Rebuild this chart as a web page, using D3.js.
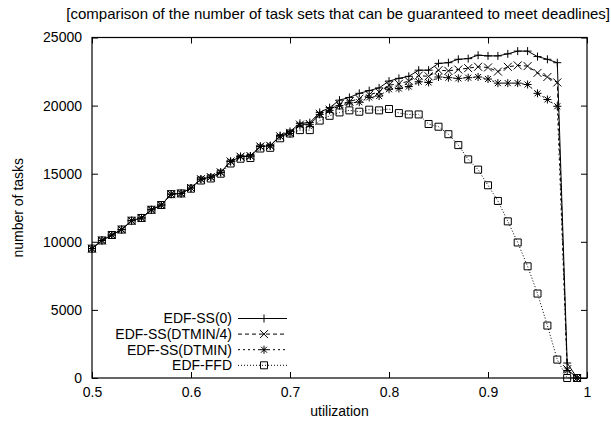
<!DOCTYPE html>
<html>
<head>
<meta charset="utf-8">
<script src="https://cdn.jsdelivr.net/npm/d3@7"></script>
<style>
  body { margin: 0; background: #fff; }
  svg { font-family: "Liberation Sans", Arial, sans-serif; }
  text { fill: #000; }
</style>
</head>
<body>
<div id="chart"></div>
<script>
// utilization steps
const utilization = d3.range(50).map(i => +(0.5 + i * 0.01).toFixed(2));

const edfSS0 = [9500, 10100, 10500, 10900, 11550, 11750, 12350, 12700, 13500, 13550,
  13950, 14600, 14750, 15100, 15900, 16250, 16300, 17000, 17050, 17800,
  18100, 18700, 18750, 19500, 19850, 20400, 20600, 20900, 21100, 21300,
  21800, 22000, 22150, 22600, 22600, 23100, 23150, 23400, 23450, 23700,
  23650, 23650, 23800, 24000, 24000, 23600, 23400, 23150, 1100, 0];

const edfSSQuarter = [9500, 10100, 10500, 10900, 11550, 11750, 12350, 12700, 13500, 13550,
  13950, 14600, 14750, 15100, 15900, 16250, 16300, 17000, 17050, 17750,
  18000, 18600, 18650, 19400, 19700, 20100, 20300, 20500, 20800, 21000,
  21500, 21600, 21800, 22200, 22150, 22600, 22550, 22650, 22750, 22850,
  22800, 22500, 22850, 22950, 22900, 22400, 22100, 21700, 650, 0];

const edfSSFull = [9500, 10100, 10500, 10900, 11550, 11750, 12350, 12700, 13500, 13550,
  13950, 14600, 14750, 15100, 15900, 16250, 16300, 17000, 17050, 17750,
  17950, 18550, 18600, 19350, 19650, 20000, 20200, 20250, 20600, 20700,
  21200, 21250, 21400, 21750, 21700, 22100, 22050, 22000, 22050, 22100,
  21950, 21650, 21650, 21650, 21550, 20900, 20450, 19950, 550, 0];

const edfFFD = [9500, 10100, 10500, 10900, 11550, 11750, 12350, 12700, 13500, 13550,
  13900, 14500, 14650, 15000, 15750, 16100, 16150, 16850, 16900, 17600,
  17950, 18200, 18200, 18900, 19250, 19500, 19650, 19550, 19700, 19650,
  19750, 19450, 19350, 19350, 18650, 18450, 17900, 17100, 16050, 15300,
  14150, 13000, 11500, 9950, 8200, 6200, 3850, 1350, 0, 0];

const seriesNames = ["EDF-SS(0)", "EDF-SS(DTMIN/4)", "EDF-SS(DTMIN)", "EDF-FFD"];
const seriesValues = [edfSS0, edfSSQuarter, edfSSFull, edfFFD];
const xTicks = [0.5, 0.6, 0.7, 0.8, 0.9, 1];
const yTicks = [0, 5000, 10000, 15000, 20000, 25000];

const svgWidth = 611;
const svgHeight = 426;
const margin = {top: 37.5, right: 24, bottom: 48, left: 92};
const width = svgWidth - margin.left - margin.right;
const height = svgHeight - margin.top - margin.bottom;
const fontSize = 14;

const svg = d3.select("#chart")
  .append("svg")
  .attr("width", svgWidth)
  .attr("height", svgHeight);

const g = svg.append("g")
  .attr("transform", `translate(${margin.left}, ${margin.top})`);

const x = d3.scaleLinear().domain([0.5, 1]).range([0, width]);
const y = d3.scaleLinear().domain([0, 25000]).range([height, 0]);

// line styles per series
const dashes = [null, "4,3", "2,3", "1,2"];

// axes: inward ticks, mirrored on top/right
const tick = 6;
g.append("g").attr("transform", `translate(0,${height})`)
  .call(d3.axisBottom(x).tickValues(xTicks).tickSizeInner(-tick).tickSizeOuter(0)
    .tickPadding(9).tickFormat(d3.format("")))
  .call(a => a.select(".domain").remove());
g.append("g")
  .call(d3.axisTop(x).tickValues(xTicks).tickSizeInner(-tick).tickSizeOuter(0).tickFormat(""))
  .call(a => a.select(".domain").remove());
g.append("g")
  .call(d3.axisLeft(y).tickValues(yTicks).tickSizeInner(-tick).tickSizeOuter(0)
    .tickPadding(10).tickFormat(d3.format("")))
  .call(a => a.select(".domain").remove());
g.append("g").attr("transform", `translate(${width},0)`)
  .call(d3.axisRight(y).tickValues(yTicks).tickSizeInner(-tick).tickSizeOuter(0).tickFormat(""))
  .call(a => a.select(".domain").remove());

g.selectAll(".tick text").attr("font-size", fontSize).attr("font-family", "Liberation Sans, Arial, sans-serif");
g.selectAll(".tick line").attr("stroke", "#000");

g.append("rect")
  .attr("width", width).attr("height", height)
  .attr("fill", "none").attr("stroke", "#000").attr("stroke-width", 1.2);

// marker drawing
function marker(sel, kind, cx, cy) {
  const s = 4;
  const p = sel.append("path")
    .attr("transform", `translate(${cx},${cy})`)
    .attr("fill", "none").attr("stroke", "#000").attr("stroke-width", 1);
  if (kind === 0) p.attr("d", `M${-s},0H${s}M0,${-s}V${s}`);
  else if (kind === 1) p.attr("d", `M${-s},${-s}L${s},${s}M${-s},${s}L${s},${-s}`);
  else if (kind === 2) p.attr("d", `M${-s},0H${s}M0,${-s}V${s}M-3,-3L3,3M-3,3L3,-3`);
  else p.attr("d", `M-3.5,-3.5H3.5V3.5H-3.5Z`);
}

const line = d3.line()
  .x((d, i) => x(utilization[i]))
  .y(d => y(d));

seriesValues.forEach((vals, k) => {
  g.append("path")
    .datum(vals)
    .attr("d", line)
    .attr("fill", "none")
    .attr("stroke", "#000")
    .attr("stroke-width", 1)
    .attr("stroke-dasharray", dashes[k]);
  const mg = g.append("g");
  vals.forEach((v, i) => marker(mg, k, x(utilization[i]), y(v)));
});

// legend
const legend = svg.append("g");
seriesNames.forEach((name, k) => {
  const ly = 318.5 + k * 15.6;
  legend.append("text")
    .attr("x", 232).attr("y", ly)
    .attr("dy", "0.35em")
    .attr("text-anchor", "end")
    .attr("font-size", fontSize)
    .text(name);
  legend.append("line")
    .attr("x1", 238).attr("x2", 287)
    .attr("y1", ly).attr("y2", ly)
    .attr("stroke", "#000").attr("stroke-width", 1)
    .attr("stroke-dasharray", dashes[k]);
  marker(legend, k, 264, ly);
});

// labels
svg.append("text")
  .attr("x", 610).attr("y", 19)
  .attr("text-anchor", "end")
  .attr("font-size", 15)
  .text("[comparison of the number of task sets that can be guaranteed to meet deadlines]");

svg.append("text")
  .attr("x", margin.left + width / 2).attr("y", 416)
  .attr("text-anchor", "middle")
  .attr("font-size", fontSize)
  .text("utilization");

svg.append("text")
  .attr("transform", `translate(23, ${margin.top + height / 2}) rotate(-90)`)
  .attr("text-anchor", "middle")
  .attr("font-size", fontSize)
  .text("number of tasks");
</script>
</body>
</html>
